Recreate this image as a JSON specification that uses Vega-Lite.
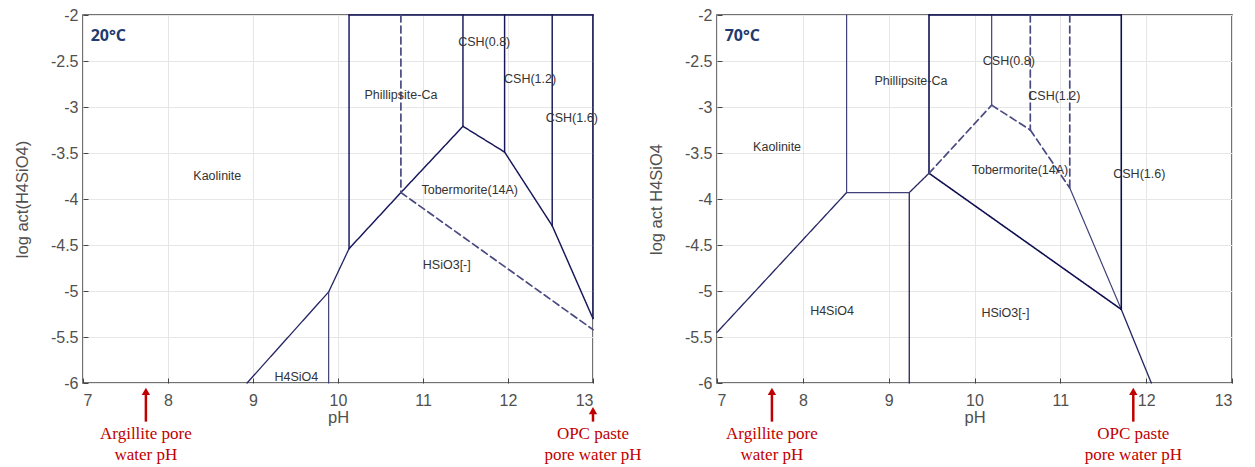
{
  "$schema": "https://vega.github.io/schema/vega-lite/v6.json",
  "padding": {"left": 13, "top": 6, "right": 2, "bottom": 2},
  "background": "white",
  "bounds": "flush",
  "spacing": 124,
  "config": {
    "view": {"stroke": "#444444", "strokeWidth": 1.5},
    "axis": {
      "labelFont": "Liberation Sans", "labelFontSize": 16, "labelColor": "#505050",
      "titleFont": "Liberation Sans", "titleFontSize": 16.5, "titleColor": "#505050", "titleFontWeight": "normal",
      "domain": false, "gridColor": "#e6e6e6", "gridWidth": 1,
      "ticks": true, "tickSize": -5, "tickColor": "#444444", "tickWidth": 1,
      "labelExpr": "datum.value + ''"
    }
  },
  "datasets": {
    "segs": [
      {"p": "20", "x": 10.13, "y": -2, "x2e": 13, "y2e": -2, "w": "thick", "d": "solid"},
      {"p": "20", "x": 13, "y": -2, "x2e": 13, "y2e": -5.3, "w": "thick", "d": "solid"},
      {"p": "20", "x": 10.13, "y": -2, "x2e": 10.13, "y2e": -4.54, "w": "thick", "d": "solid"},
      {"p": "20", "x": 11.47, "y": -2, "x2e": 11.47, "y2e": -3.21, "w": "thick", "d": "solid"},
      {"p": "20", "x": 11.96, "y": -2, "x2e": 11.96, "y2e": -3.49, "w": "thick", "d": "solid"},
      {"p": "20", "x": 12.52, "y": -2, "x2e": 12.52, "y2e": -4.29, "w": "thick", "d": "solid"},
      {"p": "20", "x": 10.13, "y": -4.54, "x2e": 10.74, "y2e": -3.93, "w": "thick", "d": "solid"},
      {"p": "20", "x": 10.74, "y": -3.93, "x2e": 11.47, "y2e": -3.21, "w": "thick", "d": "solid"},
      {"p": "20", "x": 11.47, "y": -3.21, "x2e": 11.96, "y2e": -3.49, "w": "thick", "d": "solid"},
      {"p": "20", "x": 11.96, "y": -3.49, "x2e": 12.52, "y2e": -4.29, "w": "thick", "d": "solid"},
      {"p": "20", "x": 12.52, "y": -4.29, "x2e": 13, "y2e": -5.3, "w": "thick", "d": "solid"},
      {"p": "20", "x": 8.93, "y": -6, "x2e": 9.89, "y2e": -5.01, "w": "med", "d": "solid"},
      {"p": "20", "x": 9.89, "y": -5.01, "x2e": 10.13, "y2e": -4.54, "w": "med", "d": "solid"},
      {"p": "20", "x": 9.89, "y": -5.01, "x2e": 9.89, "y2e": -6, "w": "thin", "d": "solid"},
      {"p": "20", "x": 10.74, "y": -2, "x2e": 10.74, "y2e": -3.93, "w": "dash", "d": "dash"},
      {"p": "20", "x": 10.74, "y": -3.93, "x2e": 13, "y2e": -5.42, "w": "dash", "d": "dash"},
      {"p": "70", "x": 7, "y": -5.45, "x2e": 8.51, "y2e": -3.93, "w": "med", "d": "solid"},
      {"p": "70", "x": 9.24, "y": -3.93, "x2e": 9.47, "y2e": -3.72, "w": "med", "d": "solid"},
      {"p": "70", "x": 11.71, "y": -5.2, "x2e": 12.06, "y2e": -6, "w": "med", "d": "solid"},
      {"p": "70", "x": 9.24, "y": -3.93, "x2e": 9.24, "y2e": -6, "w": "med", "d": "solid"},
      {"p": "70", "x": 8.51, "y": -2, "x2e": 8.51, "y2e": -3.93, "w": "thin", "d": "solid"},
      {"p": "70", "x": 8.51, "y": -3.93, "x2e": 9.24, "y2e": -3.93, "w": "thin", "d": "solid"},
      {"p": "70", "x": 10.2, "y": -2, "x2e": 10.2, "y2e": -2.98, "w": "thin", "d": "solid"},
      {"p": "70", "x": 11.11, "y": -3.88, "x2e": 11.71, "y2e": -5.2, "w": "thin", "d": "solid"},
      {"p": "70", "x": 9.47, "y": -2, "x2e": 11.71, "y2e": -2, "w": "xthick", "d": "solid"},
      {"p": "70", "x": 9.47, "y": -2, "x2e": 9.47, "y2e": -3.72, "w": "xthick", "d": "solid"},
      {"p": "70", "x": 11.71, "y": -2, "x2e": 11.71, "y2e": -5.2, "w": "xthick", "d": "solid"},
      {"p": "70", "x": 9.47, "y": -3.72, "x2e": 11.71, "y2e": -5.2, "w": "xthick", "d": "solid"},
      {"p": "70", "x": 9.47, "y": -3.72, "x2e": 10.2, "y2e": -2.98, "w": "dash", "d": "dash"},
      {"p": "70", "x": 10.2, "y": -2.98, "x2e": 10.65, "y2e": -3.25, "w": "dash", "d": "dash"},
      {"p": "70", "x": 10.65, "y": -3.25, "x2e": 11.11, "y2e": -3.88, "w": "dash", "d": "dash"},
      {"p": "70", "x": 10.65, "y": -2, "x2e": 10.65, "y2e": -3.25, "w": "dash", "d": "dash"},
      {"p": "70", "x": 11.11, "y": -2, "x2e": 11.11, "y2e": -3.88, "w": "dash", "d": "dash"}
    ],
    "labels": [
      {"p": "20", "x": 8.58, "y": -3.75, "t": "Kaolinite", "b": "normal"},
      {"p": "20", "x": 10.74, "y": -2.87, "t": "Phillipsite-Ca", "b": "normal"},
      {"p": "20", "x": 11.72, "y": -2.29, "t": "CSH(0.8)", "b": "normal"},
      {"p": "20", "x": 12.26, "y": -2.7, "t": "CSH(1.2)", "b": "normal"},
      {"p": "20", "x": 12.75, "y": -3.12, "t": "CSH(1.6)", "b": "normal"},
      {"p": "20", "x": 11.55, "y": -3.9, "t": "Tobermorite(14A)", "b": "normal"},
      {"p": "20", "x": 11.28, "y": -4.72, "t": "HSiO3[-]", "b": "normal"},
      {"p": "20", "x": 9.51, "y": -5.93, "t": "H4SiO4", "b": "normal"},
      {"p": "70", "x": 7.7, "y": -3.43, "t": "Kaolinite", "b": "normal"},
      {"p": "70", "x": 9.26, "y": -2.72, "t": "Phillipsite-Ca", "b": "normal"},
      {"p": "70", "x": 10.4, "y": -2.5, "t": "CSH(0.8)", "b": "normal"},
      {"p": "70", "x": 10.93, "y": -2.885, "t": "CSH(1.2)", "b": "normal"},
      {"p": "70", "x": 10.53, "y": -3.69, "t": "Tobermorite(14A)", "b": "bold"},
      {"p": "70", "x": 11.92, "y": -3.73, "t": "CSH(1.6)", "b": "normal"},
      {"p": "70", "x": 8.34, "y": -5.22, "t": "H4SiO4", "b": "normal"},
      {"p": "70", "x": 10.36, "y": -5.24, "t": "HSiO3[-]", "b": "normal"}
    ],
    "temps": [
      {"p": "20", "x": 7.09, "y": -2.23, "t": "20°C"},
      {"p": "70", "x": 7.09, "y": -2.23, "t": "70°C"}
    ],
    "notes": [
      {"p": "20", "x": 7.74, "y": -6.09, "y2e": -6.42, "ty": -6.47, "t": "Argillite pore\nwater pH"},
      {"p": "20", "x": 13.0, "y": -6.3, "y2e": -6.42, "ty": -6.47, "t": "OPC paste\npore water pH"},
      {"p": "70", "x": 7.64, "y": -6.09, "y2e": -6.42, "ty": -6.47, "t": "Argillite pore\nwater pH"},
      {"p": "70", "x": 11.85, "y": -6.09, "y2e": -6.42, "ty": -6.47, "t": "OPC paste\npore water pH"}
    ]
  },
  "hconcat": [
    {
      "width": 510, "height": 368,
      "layer": [
        {
          "data": {"name": "segs"},
          "transform": [{"filter": "datum.p == '20'"}],
          "mark": {"type": "rule", "strokeCap": "round"},
          "encoding": {
            "x": {"field": "x", "type": "quantitative", "scale": {"domain": [7, 13], "nice": false, "zero": false},
                  "axis": {"title": "pH", "values": [7, 8, 9, 10, 11, 12, 13], "labelPadding": 14, "titlePadding": 1, "grid": true}},
            "y": {"field": "y", "type": "quantitative", "scale": {"domain": [-6, -2], "nice": false, "zero": false},
                  "axis": {"title": "log act(H4SiO4)", "values": [-6, -5.5, -5, -4.5, -4, -3.5, -3, -2.5, -2], "labelPadding": 10, "titlePadding": 20, "grid": true}},
            "x2": {"field": "x2e"},
            "y2": {"field": "y2e"},
            "strokeWidth": {"field": "w", "type": "nominal", "scale": {"domain": ["thin", "med", "thick", "xthick", "dash"], "range": [1.2, 1.7, 2.8, 3.8, 1.5]}, "legend": null},
            "color": {"field": "w", "type": "nominal", "scale": {"domain": ["thin", "med", "thick", "xthick", "dash"], "range": ["#404078", "#262664", "#16165a", "#0e0e50", "#4a4a80"]}, "legend": null},
            "strokeDash": {"field": "d", "type": "nominal", "scale": {"domain": ["solid", "dash"], "range": [[1, 0], [7, 4]]}, "legend": null}
          }
        },
        {
          "data": {"name": "labels"},
          "transform": [{"filter": "datum.p == '20'"}],
          "mark": {"type": "text", "font": "Liberation Sans", "fontSize": 12.5, "color": "#333333"},
          "encoding": {
            "x": {"field": "x", "type": "quantitative"},
            "y": {"field": "y", "type": "quantitative"},
            "text": {"field": "t"},
            "fontWeight": {"field": "b", "type": "nominal", "scale": null}
          }
        },
        {
          "data": {"name": "temps"},
          "transform": [{"filter": "datum.p == '20'"}],
          "mark": {"type": "text", "font": "Open Sans", "fontSize": 16, "fontWeight": "bold", "color": "#1f3a6e", "align": "left"},
          "encoding": {
            "x": {"field": "x", "type": "quantitative"},
            "y": {"field": "y", "type": "quantitative"},
            "text": {"field": "t"}
          }
        },
        {
          "data": {"name": "notes"},
          "transform": [{"filter": "datum.p == '20'"}],
          "mark": {"type": "rule", "color": "#c00000", "strokeWidth": 2.5},
          "encoding": {
            "x": {"field": "x", "type": "quantitative"},
            "y": {"field": "y", "type": "quantitative"},
            "y2": {"field": "y2e"}
          }
        },
        {
          "data": {"name": "notes"},
          "transform": [{"filter": "datum.p == '20'"}],
          "mark": {"type": "point", "shape": "triangle-up", "filled": true, "color": "#c00000", "size": 70, "opacity": 1},
          "encoding": {
            "x": {"field": "x", "type": "quantitative"},
            "y": {"field": "y", "type": "quantitative"}
          }
        },
        {
          "data": {"name": "notes"},
          "transform": [{"filter": "datum.p == '20'"}],
          "mark": {"type": "text", "font": "Liberation Serif", "fontSize": 17, "color": "#c00000", "baseline": "top", "lineBreak": "\n", "lineHeight": 21},
          "encoding": {
            "x": {"field": "x", "type": "quantitative"},
            "y": {"field": "ty", "type": "quantitative"},
            "text": {"field": "t"}
          }
        }
      ]
    },
    {
      "width": 515, "height": 368,
      "layer": [
        {
          "data": {"name": "segs"},
          "transform": [{"filter": "datum.p == '70'"}],
          "mark": {"type": "rule", "strokeCap": "round"},
          "encoding": {
            "x": {"field": "x", "type": "quantitative", "scale": {"domain": [7, 13], "nice": false, "zero": false},
                  "axis": {"title": "pH", "values": [7, 8, 9, 10, 11, 12, 13], "labelPadding": 14, "titlePadding": 1, "grid": true}},
            "y": {"field": "y", "type": "quantitative", "scale": {"domain": [-6, -2], "nice": false, "zero": false},
                  "axis": {"title": "log act H4SiO4", "values": [-6, -5.5, -5, -4.5, -4, -3.5, -3, -2.5, -2], "labelPadding": 10, "titlePadding": 20, "grid": true}},
            "x2": {"field": "x2e"},
            "y2": {"field": "y2e"},
            "strokeWidth": {"field": "w", "type": "nominal", "scale": {"domain": ["thin", "med", "thick", "xthick", "dash"], "range": [1.2, 1.7, 2.8, 3.8, 1.5]}, "legend": null},
            "color": {"field": "w", "type": "nominal", "scale": {"domain": ["thin", "med", "thick", "xthick", "dash"], "range": ["#404078", "#262664", "#16165a", "#0e0e50", "#4a4a80"]}, "legend": null},
            "strokeDash": {"field": "d", "type": "nominal", "scale": {"domain": ["solid", "dash"], "range": [[1, 0], [7, 4]]}, "legend": null}
          }
        },
        {
          "data": {"name": "labels"},
          "transform": [{"filter": "datum.p == '70'"}],
          "mark": {"type": "text", "font": "Liberation Sans", "fontSize": 12.5, "color": "#333333"},
          "encoding": {
            "x": {"field": "x", "type": "quantitative"},
            "y": {"field": "y", "type": "quantitative"},
            "text": {"field": "t"},
            "fontWeight": {"field": "b", "type": "nominal", "scale": null},
            "fontSize": {"field": "b", "type": "nominal", "scale": {"domain": ["normal", "bold"], "range": [12.5, 14]}, "legend": null}
          }
        },
        {
          "data": {"name": "temps"},
          "transform": [{"filter": "datum.p == '70'"}],
          "mark": {"type": "text", "font": "Open Sans", "fontSize": 16, "fontWeight": "bold", "color": "#1f3a6e", "align": "left"},
          "encoding": {
            "x": {"field": "x", "type": "quantitative"},
            "y": {"field": "y", "type": "quantitative"},
            "text": {"field": "t"}
          }
        },
        {
          "data": {"name": "notes"},
          "transform": [{"filter": "datum.p == '70'"}],
          "mark": {"type": "rule", "color": "#c00000", "strokeWidth": 2.5},
          "encoding": {
            "x": {"field": "x", "type": "quantitative"},
            "y": {"field": "y", "type": "quantitative"},
            "y2": {"field": "y2e"}
          }
        },
        {
          "data": {"name": "notes"},
          "transform": [{"filter": "datum.p == '70'"}],
          "mark": {"type": "point", "shape": "triangle-up", "filled": true, "color": "#c00000", "size": 70, "opacity": 1},
          "encoding": {
            "x": {"field": "x", "type": "quantitative"},
            "y": {"field": "y", "type": "quantitative"}
          }
        },
        {
          "data": {"name": "notes"},
          "transform": [{"filter": "datum.p == '70'"}],
          "mark": {"type": "text", "font": "Liberation Serif", "fontSize": 17, "color": "#c00000", "baseline": "top", "lineBreak": "\n", "lineHeight": 21},
          "encoding": {
            "x": {"field": "x", "type": "quantitative"},
            "y": {"field": "ty", "type": "quantitative"},
            "text": {"field": "t"}
          }
        }
      ]
    }
  ]
}
